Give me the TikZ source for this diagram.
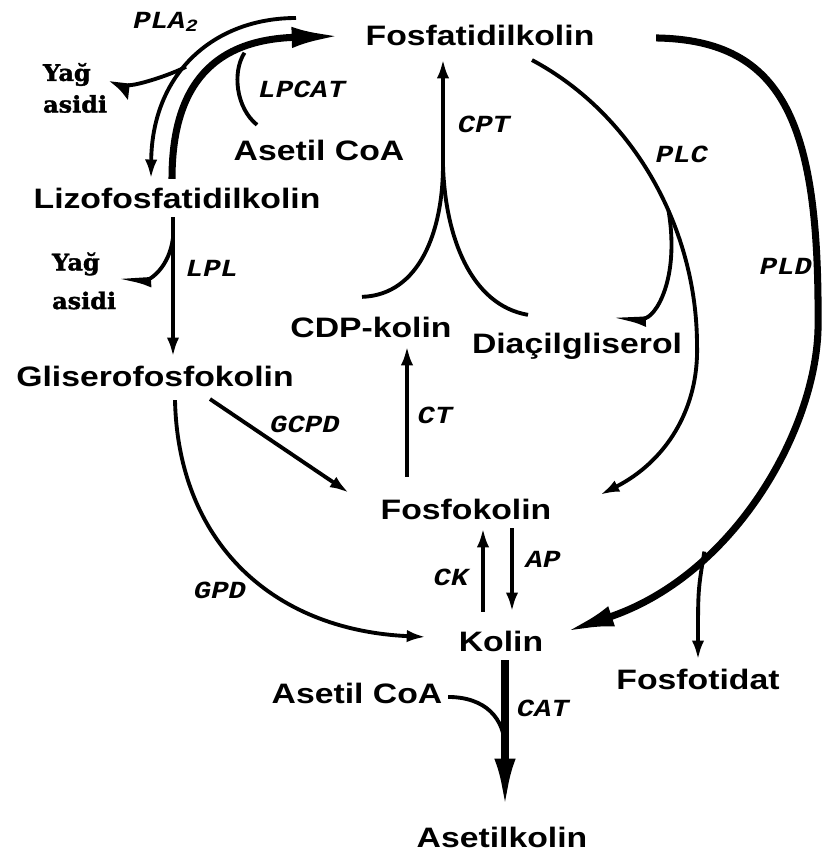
\documentclass[tikz,border=0pt]{standalone}
\usepackage{fontspec}
\usepackage{tikz}
\usetikzlibrary{arrows.meta,calc}
\newfontfamily\lblfont{Liberation Sans}[FakeStretch=1.2]
\newfontfamily\enzfont{Liberation Mono}[FakeStretch=1.18]
\newfontfamily\yagfont{DejaVu Serif}[FakeStretch=1.05,BoldFeatures={FakeBold=1.5}]

\begin{document}
\begin{tikzpicture}[x=0.02cm,y=-0.02cm,
	met/.style={font=\lblfont\bfseries\fontsize{16}{18}\selectfont,anchor=base,inner sep=2pt,outer sep=3pt},
	enz/.style={font=\enzfont\bfseries\itshape\fontsize{14}{16}\selectfont,anchor=base,inner sep=0pt},
	fa/.style={font=\yagfont\bfseries\fontsize{13}{18}\selectfont,align=left,anchor=west,inner sep=1pt},
	conv/.style={line width=2.2pt,-{Latex[length=11pt,width=7pt]}},
	major/.style={line width=4pt,-{Latex[length=28pt,width=12pt]}},
	lineto/.style={line width=2.2pt},
	fatip/.style={line width=2.2pt,-{Latex[harpoon,length=10pt,width=18pt]}},
	sidetip/.style={line width=2.2pt,-{Latex[harpoon,length=14pt,width=10pt]}}]
	
	\useasboundingbox (0,0) rectangle (822,859);
	
	% metabolites
	\node[met] (fc) at (480,45) {Fosfatidilkolin};
	\node[met] (lfc) at (177,208) {Lizofosfatidilkolin};
	\node[met] (acoa1) at (319,160) {Asetil CoA};
	\node[met] (cdp) at (371,337) {CDP-kolin};
	\node[met] (dag) at (577,353) {Diaçilgliserol};
	\node[met] (gfk) at (155,386) {Gliserofosfokolin};
	\node[met] (fokol) at (466,519) {Fosfokolin};
	\node[met] (kolin) at (501,651) {Kolin};
	\node[met] (fosfot) at (698,689) {Fosfotidat};
	\node[met] (acoa2) at (357,703) {Asetil CoA};
	\node[met] (akol) at (502,847) {Asetilkolin};
	\node[fa] (yag1) at (41,88) {Yağ\\asidi};
	\node[fa] (yag2) at (50,281) {Yağ\\[4pt]asidi};
	
	% enzymes
	\node[enz,anchor=base west] (pla2) at (133,28) {PLA\textsubscript{2}};
	\node[enz] (lpcat) at (302,97) {LPCAT};
	\node[enz] (cpt) at (484,132) {CPT};
	\node[enz] (plc) at (682,162) {PLC};
	\node[enz] (pld) at (786,274) {PLD};
	\node[enz] (lpl) at (212,276) {LPL};
	\node[enz] (gcpd) at (305,432) {GCPD};
	\node[enz] (ct) at (435,423) {CT};
	\node[enz] (ck) at (451,585) {CK};
	\node[enz] (ap) at (543,567) {AP};
	\node[enz] (gpd) at (220,598) {GPD};
	\node[enz] (cat) at (543,716) {CAT};
	
	% PLA2 and reacylation
	\coordinate (pla2s) at (296,18);
	\draw[conv] (pla2s) .. controls (215,18) and (152,72) .. ($(lfc.north)+(-26,0)$) coordinate[pos=0.55] (pla2j);
	\draw[fatip] (pla2j) .. controls (168,76) and (135,86) .. ($(yag1.east)+(0,-5)$);
	\draw[major] ($(lfc.north)+(-5,0)$) .. controls (172,95) and (205,40) .. ($(fc.west)+(-16,1)$) coordinate[pos=0.7] (lpcatj);
	\draw[lineto] ($(acoa1.north)+(-62,-6)$) .. controls (236,108) and (232,72) .. (lpcatj);
	
	% CPT
	\coordinate (cptj) at (443,165);
	\draw[conv] (cptj) -- ($(cptj |- fc.south)+(0,5)$);
	\draw[lineto] ($(cdp.north)+(-9,-11)$) .. controls (420,295) and (443,230) .. (cptj);
	\draw[lineto] ($(dag.north)+(-49,-9)$) .. controls (470,305) and (445,235) .. (cptj);
	
	% PLC
	\draw[conv] ($(fc.south)+(52,6)$) .. controls (635,115) and (697,230) .. (697,345) coordinate[pos=0.6] (plcj) .. controls (699,410) and (665,462) .. ($(fokol.north east)+(40,5)$);
	\draw[sidetip] (plcj) .. controls (680,280) and (655,318) .. ($(dag.north)+(36,-4)$);
	
	% PLD
	\draw[major] ($(fc.east)+(53,3)$) .. controls (785,40) and (820,125) .. (818,330) .. controls (815,430) and (735,575) .. ($(kolin.east)+(13,-9)$) coordinate[pos=0.67] (pldj);
	\draw[conv] (pldj) .. controls (698,590) .. (fosfot.north);
	
	% LPL
	\draw[conv] ($(lfc.south)+(-4,0)$) coordinate (lpls) -- (lpls |- gfk.north) coordinate[pos=0.15] (lplj);
	\draw[sidetip] (lplj) .. controls (169,268) and (150,279) .. (yag2.east);
	
	% GCPD, GPD
	\draw[conv] ($(gfk.south)+(55,4)$) -- ($(fokol.north west)+(-23,3)$);
	\draw[conv] ($(gfk.south)+(20,5)$) .. controls (178,540) and (270,630) .. ($(kolin.west)+(-24,-4)$);
	
	% CT, CK, AP
	\draw[conv] ($(fokol.north)+(-59,-13)$) coordinate (cts) -- (cts |- cdp.south);
	\draw[conv] ($(kolin.north)+(-18,-10)$) coordinate (cks) -- (cks |- fokol.south);
	\draw[conv] ($(fokol.south)+(46,0)$) coordinate (aps) -- ($(aps |- kolin.north)+(0,-10)$);
	
	% CAT
	\draw[major] ($(kolin.south)+(4,0)$) coordinate (cats) -- ($(cats |- akol.north)+(0,-10)$) coordinate[pos=0.6] (catj);
	\draw[lineto] ($(acoa2.east)+(-3,4)$) .. controls (485,697) and (505,718) .. (catj);
	
\end{tikzpicture}
\end{document}
